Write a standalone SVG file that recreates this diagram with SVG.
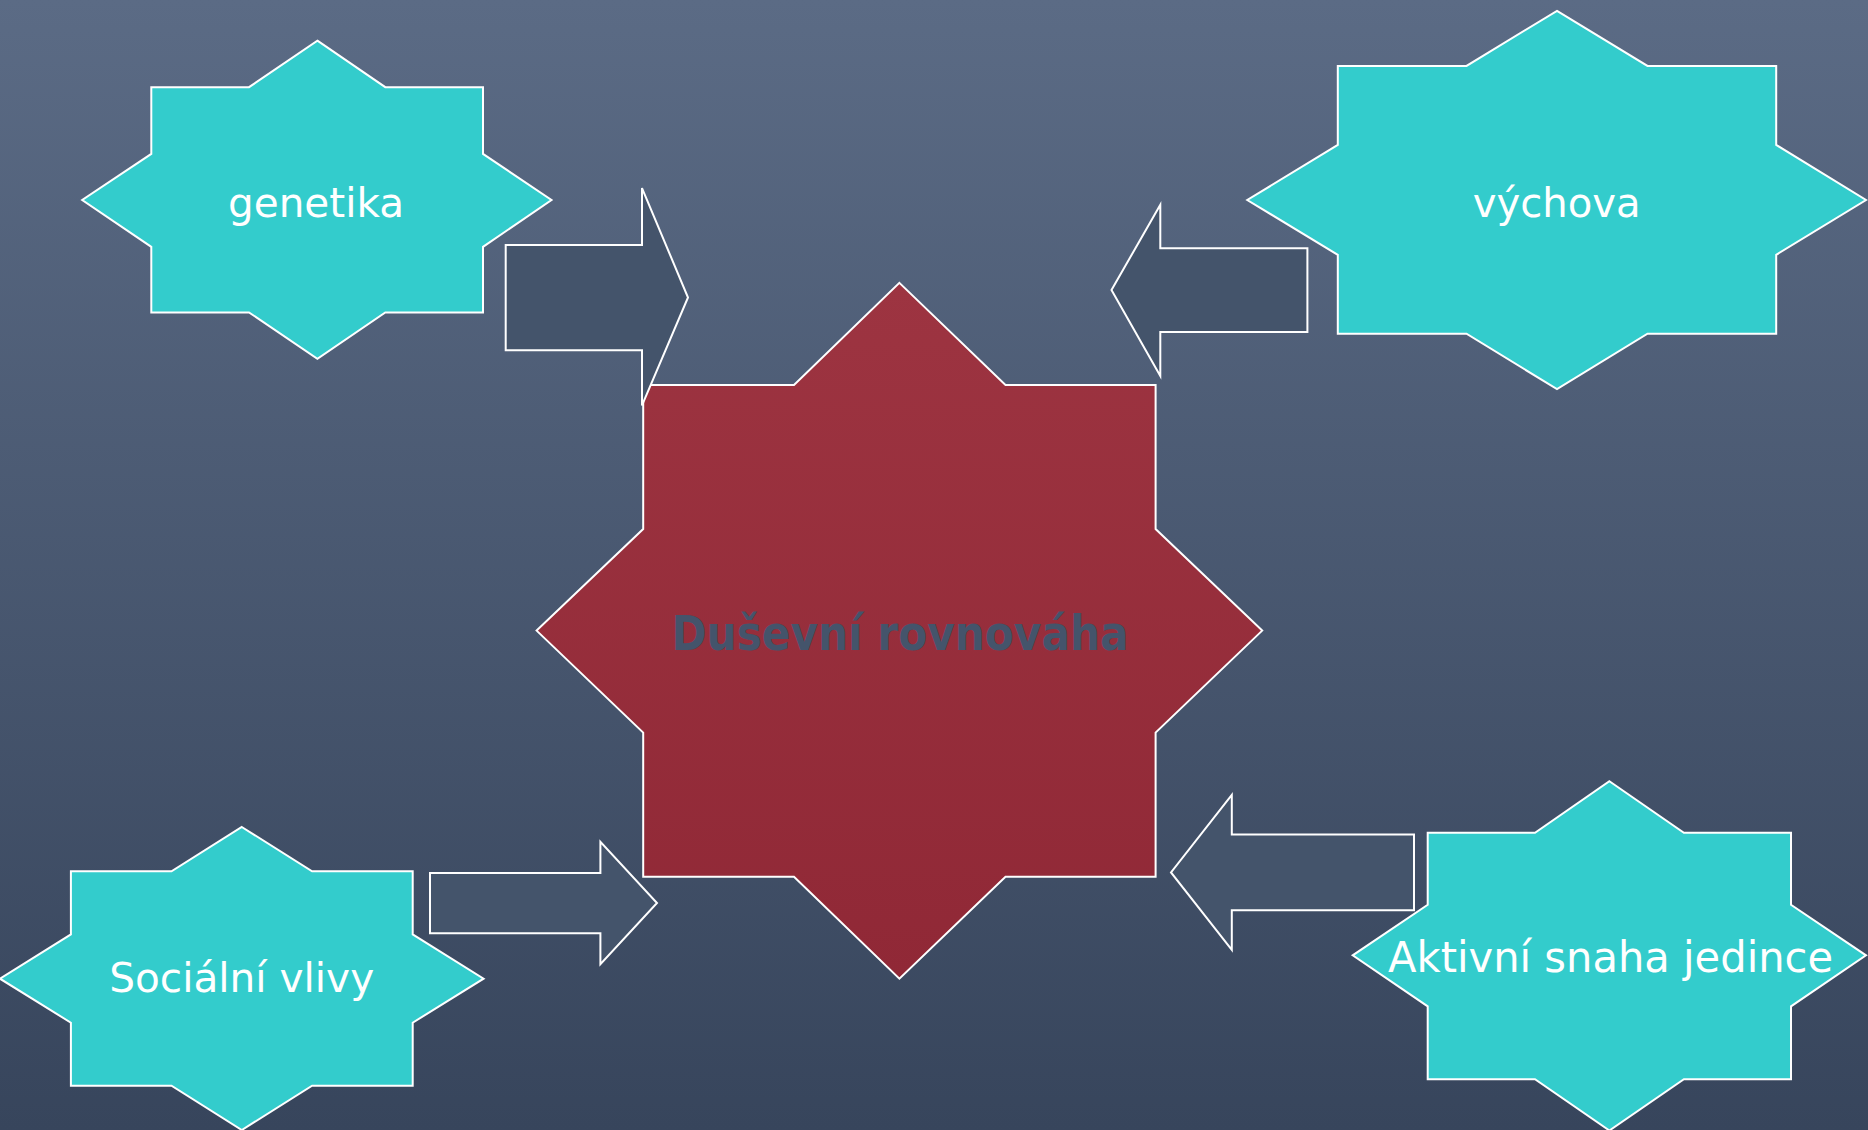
<svg xmlns="http://www.w3.org/2000/svg" width="1868" height="1130" viewBox="0 0 1868 1130">
<defs>
<linearGradient id="bg" x1="0" y1="0" x2="0" y2="1">
<stop offset="0" stop-color="#5b6b85"/>
<stop offset="1" stop-color="#37455c"/>
</linearGradient>
<linearGradient id="red" gradientUnits="userSpaceOnUse" x1="0" y1="283" x2="0" y2="979">
<stop offset="0" stop-color="#9d3441"/>
<stop offset="1" stop-color="#902836"/>
</linearGradient>
<style>
.star{fill:#33cccc;stroke:#ffffff;stroke-width:2;stroke-linejoin:miter}
.center{fill:url(#red);stroke:#ffffff;stroke-width:2}
.arrow{fill:#44546b;stroke:#ffffff;stroke-width:2;stroke-linejoin:miter}
.lbl{font-family:"DejaVu Sans","Verdana",sans-serif;font-size:41px;fill:#ffffff;text-anchor:middle}
.ctr{font-family:"DejaVu Sans","Verdana",sans-serif;font-size:48px;font-weight:bold;fill:#44546b;text-anchor:middle}
</style>
</defs>
<rect x="0" y="0" width="1868" height="1130" fill="url(#bg)"/>

<g id="node-center">
<polygon class="center" points="899.4,282.9 1005.5,384.9 1155.6,384.9 1155.6,529 1262.2,630.6 1155.6,732.6 1155.6,876.7 1005.5,876.7 899.4,978.7 794,876.7 643.2,876.7 643.2,732.6 536.6,630.6 643.2,529 643.2,384.9 794,384.9"/>
<text class="ctr" x="900" y="650" textLength="457" lengthAdjust="spacingAndGlyphs">Duševní rovnováha</text>
</g>

<g id="node-genetika">
<polygon class="star" points="317.4,40.7 385.3,87.2 483,87.2 483,153.9 551.5,200 483,246.8 483,312.4 385.3,312.4 317.4,358.9 249,312.4 151.3,312.4 151.3,246.8 82.2,200 151.3,153.9 151.3,87.2 249,87.2"/>
<text class="lbl" x="316" y="216.7" textLength="176" lengthAdjust="spacingAndGlyphs">genetika</text>
</g>

<g id="node-vychova">
<polygon class="star" points="1557,10.8 1647.5,65.9 1776.2,65.9 1776.2,144.9 1866,200 1776.2,254.8 1776.2,333.7 1647.5,333.7 1557,389.2 1466.5,333.7 1337.8,333.7 1337.8,254.8 1247.3,200 1337.8,144.9 1337.8,65.9 1466.5,65.9"/>
<text class="lbl" x="1556.7" y="216.7" textLength="168" lengthAdjust="spacingAndGlyphs">výchova</text>
</g>

<g id="node-socialni">
<polygon class="star" points="241.8,827 312.1,871.3 412.7,871.3 412.7,934.4 483.6,978.7 412.7,1022.7 412.7,1085.7 312.1,1085.7 241.8,1130 171.5,1085.7 70.9,1085.7 70.9,1022.7 0,978.7 70.9,934.4 70.9,871.3 171.5,871.3"/>
<text class="lbl" x="241.7" y="991.7" textLength="265" lengthAdjust="spacingAndGlyphs">Sociální vlivy</text>
</g>

<g id="node-aktivni">
<polygon class="star" points="1609.4,781.2 1683.9,832.7 1791,832.7 1791,904.8 1866,955.3 1791,1006.4 1791,1079.2 1683.9,1079.2 1609.4,1130.5 1535,1079.2 1427.7,1079.2 1427.7,1006.4 1352.7,955.3 1427.7,904.8 1427.7,832.7 1535,832.7"/>
<text class="lbl" x="1610.6" y="971.7" style="font-size:43px" textLength="445" lengthAdjust="spacingAndGlyphs">Aktivní snaha jedince</text>
</g>

<g id="connectors">
<polygon class="arrow" points="505.7,245 642,245 642,188.1 688,297.5 642,405.4 642,350.3 505.7,350.3"/>
<polygon class="arrow" points="1307.4,248.3 1160.3,248.3 1160.3,204.7 1111.5,290.1 1160.3,375.9 1160.3,331.9 1307.4,331.9"/>
<polygon class="arrow" points="430,873.1 600.4,873.1 600.4,841.8 657,903 600.4,964.3 600.4,933.3 430,933.3"/>
<polygon class="arrow" points="1414,834.5 1231.8,834.5 1231.8,794.9 1171,872.4 1231.8,949.9 1231.8,910.2 1414,910.2"/>
</g>
</svg>
